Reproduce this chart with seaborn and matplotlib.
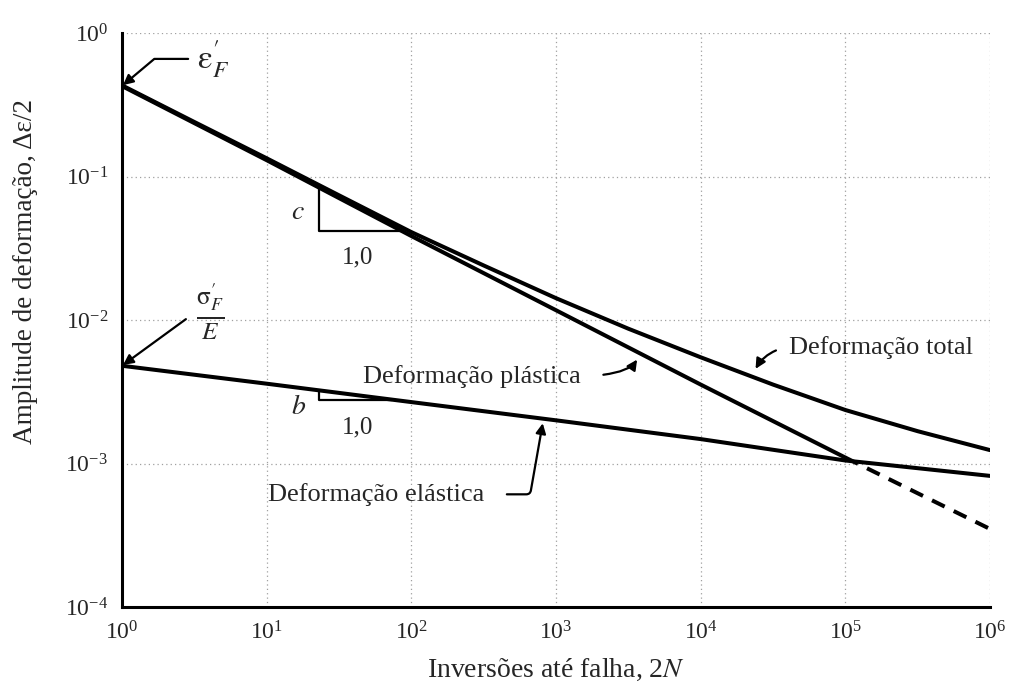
import numpy as np
import pandas as pd
import matplotlib
matplotlib.use("Agg")
import matplotlib.pyplot as plt
import seaborn as sns

# values
reversals = [1e0, 1e1, 1e2, 1e3, 1e4, 1e5, 1e6]
plastic = [0.427, 0.130, 0.0385, 0.0117, 0.00355, 0.00110, 0.00035]
elastic = [0.0048, 0.0036, 0.00268, 0.0020, 0.00148, 0.00105, 0.00082]

reversals_total = [1e0, 10**0.5, 1e1, 10**1.5, 1e2, 10**2.5, 1e3,
                   10**3.5, 1e4, 10**4.5, 1e5, 10**5.5, 1e6]
total = [0.432, 0.240, 0.134, 0.074, 0.041, 0.0240, 0.0142,
         0.0087, 0.0055, 0.00355, 0.00236, 0.00168, 0.00124]
transition = 1e5  # plastic line goes dashed past the crossing

sns.set_style("white")
plt.rcParams["font.family"] = ["Liberation Serif", "DejaVu Serif"]
plt.rcParams["mathtext.fontset"] = "stix"

df = pd.DataFrame({"2N": reversals, "plastic": plastic, "elastic": elastic})
df_total = pd.DataFrame({"2N": reversals_total, "total": total})
solid = df[df["2N"] <= transition]
dashed = df[df["2N"] >= transition]

fig = plt.figure(figsize=(10.18, 6.92), dpi=100)
ax = fig.add_axes([0.1198, 0.1228, 0.8527, 0.8295])

lw = 2.9
sns.lineplot(data=df, x="2N", y="elastic", color="black", lw=lw, ax=ax)
sns.lineplot(data=df_total, x="2N", y="total", color="black", lw=lw, ax=ax)
sns.lineplot(data=solid, x="2N", y="plastic", color="black", lw=lw, ax=ax)
sns.lineplot(data=dashed, x="2N", y="plastic", color="black", lw=lw, ax=ax,
             linestyle=(0, (3.5, 2.5)))

ax.set_xscale("log")
ax.set_yscale("log")
ax.set_xlim(1e0, 1e6)
ax.set_ylim(1e-4, 1e0)
ax.minorticks_off()
ax.grid(True, which="major", color="#a0a0a0", linestyle=(0, (1, 2.5)), lw=0.9)
for side in ["top", "right"]:
    ax.spines[side].set_visible(False)
for side in ["left", "bottom"]:
    ax.spines[side].set_linewidth(2.2)
    ax.spines[side].set_color("black")
ax.tick_params(length=0, labelsize=17, pad=10)

ax.set_xlabel(r"Inversões até falha, 2$N$", fontsize=20, labelpad=9)
ax.set_ylabel(r"Amplitude de deformação, Δε/2", fontsize=19.5)
ax.yaxis.set_label_coords(-0.097, 0.585)

# slope triangles (built on the curves)
def on_line(x, ys):
    return 10 ** np.interp(np.log10(x), np.log10(reversals), np.log10(ys))

x0, x1 = 22.9, 85.0
ax.plot([x0, x0, x1], [on_line(x0, plastic), on_line(x1, plastic), on_line(x1, plastic)],
        color="black", lw=1.6)
ax.text(16.5, 0.0557, "$c$", fontsize=20, ha="center", va="center")
ax.text(42.7, 0.0275, "1,0", fontsize=18, ha="center", va="center")

x1b = 73.5
ax.plot([x0, x0, x1b], [on_line(x0, elastic), on_line(x1b, elastic), on_line(x1b, elastic)],
        color="black", lw=1.6)
ax.text(16.5, 0.00244, "$b$", fontsize=20, ha="center", va="center")
ax.text(42.7, 0.00177, "1,0", fontsize=18, ha="center", va="center")

arrow = dict(arrowstyle="-|>", color="black", lw=1.6, mutation_scale=15)
ax.annotate(r"$\mathrm{\varepsilon}^{\prime}_{F}$", xy=(1.0, plastic[0]), xytext=(3.3, 0.66),
            fontsize=24, va="center", ha="left",
            arrowprops=dict(arrow, connectionstyle="angle,angleA=0,angleB=40,rad=0",
                            relpos=(0.0, 0.5), shrinkA=4, shrinkB=1))
ax.annotate(r"$\frac{\mathrm{\sigma}^{\prime}_{F}}{E}$", xy=(1.0, elastic[0]),
            xytext=(4.06, 0.0114), fontsize=26, va="center", ha="center",
            arrowprops=dict(arrow, relpos=(0.0, 0.5), shrinkA=6, shrinkB=1))

ax.annotate("Deformação plástica", xy=(3680, 0.0054), xytext=(46.3, 0.00407),
            fontsize=19, va="center", ha="left",
            arrowprops=dict(arrow, connectionstyle="angle3,angleA=0,angleB=60",
                            relpos=(1.0, 0.5), shrinkA=14, shrinkB=1))
ax.annotate("Deformação total", xy=(23700, 0.00448), xytext=(40500, 0.00648),
            fontsize=19, va="center", ha="left",
            arrowprops=dict(arrow, connectionstyle="arc3,rad=0.25",
                            relpos=(0.0, 0.5), shrinkA=7, shrinkB=1))
ax.annotate("Deformação elástica", xy=(813, 0.00195), xytext=(10.2, 0.00061),
            fontsize=19, va="center", ha="left",
            arrowprops=dict(arrow, connectionstyle="angle,angleA=0,angleB=80,rad=4",
                            relpos=(1.0, 0.5), shrinkA=14, shrinkB=1))

fig.savefig("out.png", dpi=100)
